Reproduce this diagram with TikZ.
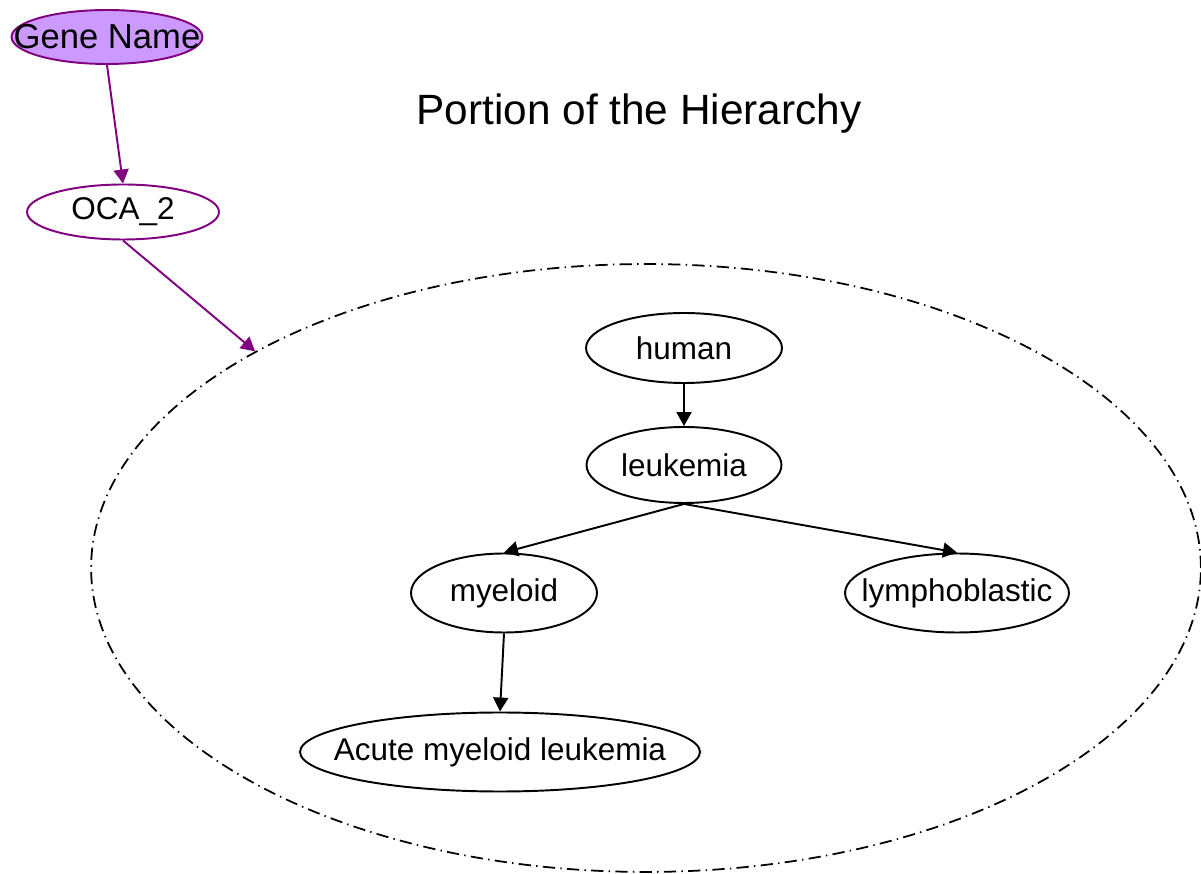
\documentclass[tikz,border=0pt]{standalone}
\usepackage{fontspec}
\setmainfont{Liberation Sans}
\usetikzlibrary{shapes.geometric,arrows.meta}

\definecolor{genepurple}{RGB}{128,0,128}
\definecolor{genefill}{RGB}{204,153,255}

\begin{document}
\begin{tikzpicture}[x=0.02cm,y=-0.02cm,
        >={Triangle[length=0.28cm,width=0.3cm]},
        term/.style={ellipse,draw,line width=1.1pt,inner sep=-1cm,
            font=\fontsize{17.9}{21}\selectfont},
        gene/.style={term,draw=genepurple},
        cluster/.style={ellipse,draw,line width=1pt,
            dash pattern=on 7pt off 3pt on 0.8pt off 3pt},
        link/.style={->,line width=1.1pt},
        genelink/.style={link,color=genepurple}]
    \useasboundingbox (0,0) rectangle (1201,874);

    % the gene and its name
    \node[gene,fill=genefill,minimum width=3.82cm,minimum height=1.08cm,
        font=\fontsize{19.7}{23}\selectfont] (genename) at (107,37) {Gene Name};
    \node[gene,minimum width=3.84cm,minimum height=1.1cm] (oca) at (123,212) {OCA\_2};

    \node[font=\fontsize{24.1}{28}\selectfont] (title) at (639,114) {Portion of the Hierarchy};

    % portion of the hierarchy
    \node[cluster,minimum width=22.2cm,minimum height=12.16cm] (hierarchy) at (646,568) {};

    \node[term,minimum width=3.92cm,minimum height=1.4cm] (human) at (684,348) {human};
    \node[term,minimum width=3.9cm,minimum height=1.52cm] (leukemia) at (684,465) {leukemia};
    \node[term,minimum width=3.72cm,minimum height=1.58cm] (myeloid) at (504,593) {myeloid};
    \node[term,minimum width=4.48cm,minimum height=1.58cm] (lymphoblastic) at (957,593) {lymphoblastic};
    \node[term,minimum width=8cm,minimum height=1.58cm] (aml) at (500,752) {Acute myeloid leukemia};

    \draw[genelink] (genename.south) -- (oca.north);
    \draw[genelink] (oca.south) -- (hierarchy.151);

    \draw[link] (human.south) -- (leukemia.north);
    \draw[link] (leukemia.south) -- (myeloid.north);
    \draw[link] (leukemia.south) -- (lymphoblastic.north);
    \draw[link] (myeloid.south) -- (aml.north);
\end{tikzpicture}
\end{document}
